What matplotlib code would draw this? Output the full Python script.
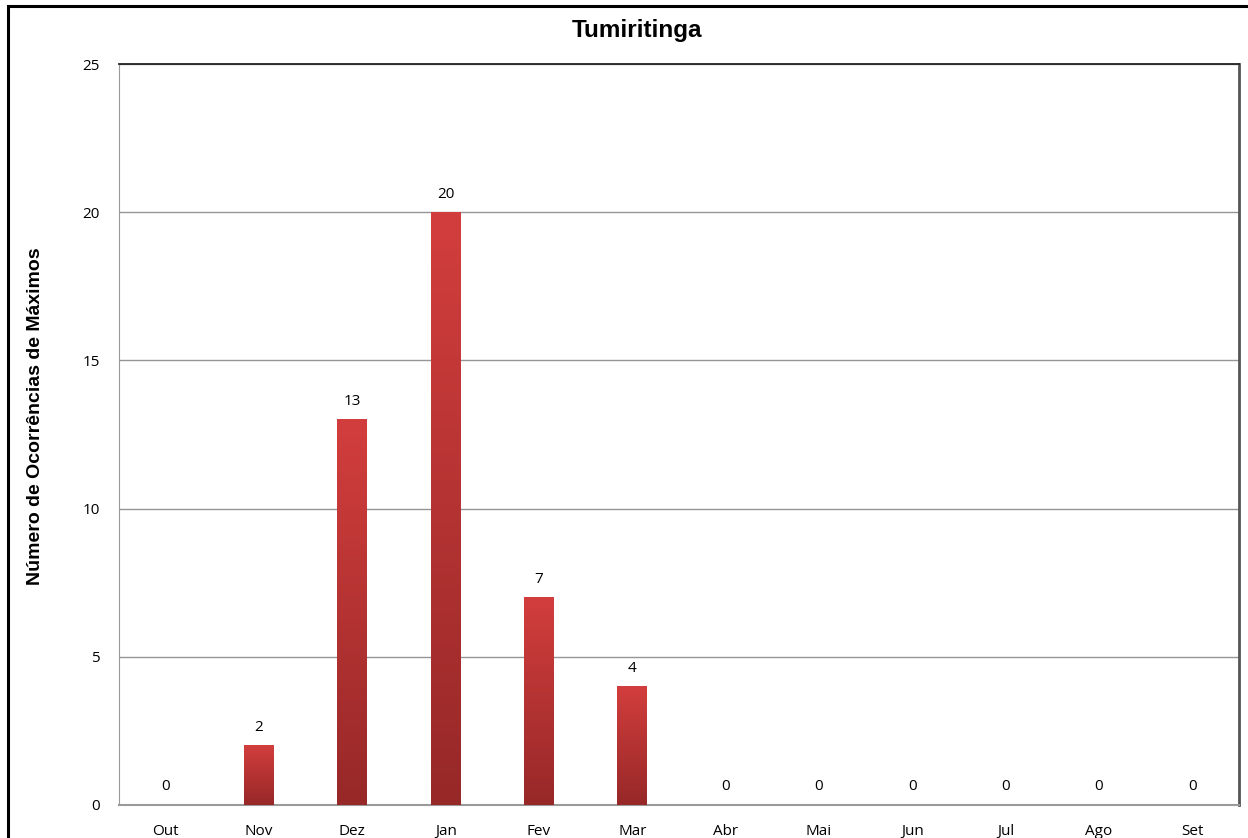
import numpy as np
import matplotlib.pyplot as plt
from matplotlib.patches import Rectangle
from matplotlib.colors import LinearSegmentedColormap

meses = ["Out", "Nov", "Dez", "Jan", "Fev", "Mar", "Abr", "Mai", "Jun", "Jul", "Ago", "Set"]
ocorrencias = [0, 2, 13, 20, 7, 4, 0, 0, 0, 0, 0, 0]
yticks = [0, 5, 10, 15, 20, 25]

fig = plt.figure(figsize=(12.48, 8.38), dpi=100)
ax = fig.add_axes([0.0954, 0.0394, 0.8974, 0.8842])

# moldura externa (corta na direita e embaixo)
fig.patches.append(Rectangle((8 / 1248, -0.05), 1.2, 1 - 6 / 838 + 0.05,
                             transform=fig.transFigure, fill=False,
                             edgecolor="black", linewidth=2.2))

x = np.arange(len(meses))
largura = 0.32
bars = ax.bar(x, ocorrencias, width=largura, color="#b83232", zorder=3)

# gradiente vertical nas barras
grad = LinearSegmentedColormap.from_list("verm", ["#972828", "#d23e3d"])
g = np.linspace(0, 1, 256).reshape(-1, 1)
for b in bars:
    h = b.get_height()
    if h <= 0:
        continue
    x0 = b.get_x()
    ax.imshow(g, cmap=grad, aspect="auto", origin="lower",
              extent=[x0, x0 + b.get_width(), 0, h], zorder=4)

for xi, v in zip(x, ocorrencias):
    ax.annotate(str(v), (xi, v), xytext=(0, 13), textcoords="offset points",
                ha="center", va="center", fontsize=11, family="Open Sans", zorder=5)

ax.set_xlim(-0.5, len(meses) - 0.5)
ax.set_ylim(0, 25)
ax.set_yticks(yticks)
ax.set_xticks(x)
ax.set_xticklabels(meses, family="Open Sans", fontsize=11)
ax.set_yticklabels([str(t) for t in yticks], family="Open Sans", fontsize=11)
ax.tick_params(length=0)
ax.tick_params(axis="x", pad=14)
ax.tick_params(axis="y", pad=14)
ax.yaxis.grid(True, color="#959595", linewidth=1, zorder=0)
ax.set_axisbelow(True)

ax.spines["top"].set_color("#222222")
ax.spines["top"].set_linewidth(1.3)
ax.spines["right"].set_color("#555555")
ax.spines["right"].set_linewidth(2)
ax.spines["left"].set_color("#9a9a9a")
ax.spines["bottom"].set_color("#9a9a9a")
ax.spines["bottom"].set_linewidth(1.5)

fig.text(637 / 1248, 1 - 30 / 838, "Tumiritinga", ha="center", va="center",
         fontsize=17.5, fontweight="bold", family="Liberation Sans")
fig.text(36 / 1248, 1 - 416 / 838, "Número de Ocorrências de Máximos",
         rotation=90, ha="center", va="center", fontsize=14,
         fontweight="bold", family="Liberation Sans")

fig.savefig("out.png", dpi=100, facecolor="white")
